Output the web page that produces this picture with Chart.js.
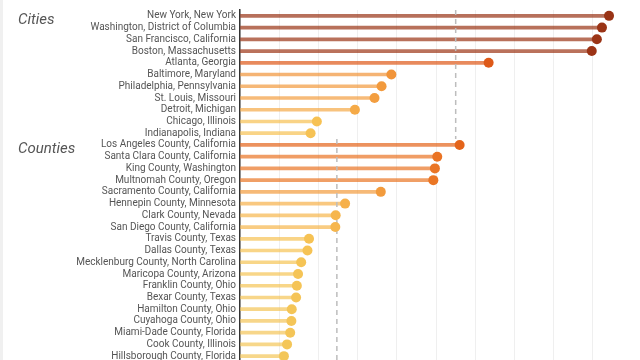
<!DOCTYPE html>
<html>
<head>
<meta charset="utf-8">
<script src="https://cdn.jsdelivr.net/npm/chart.js@4.4.1/dist/chart.umd.min.js"></script>
<style>
  html, body { margin: 0; padding: 0; background: #fff; overflow: hidden; }
  #wrap { position: relative; width: 640px; height: 360px; overflow: hidden; }
  #c { position: absolute; left: 0; top: 0; }
  #strip { position: absolute; left: 0; top: 0; width: 3px; height: 360px; background: #f0f0f0; z-index: 2; }
</style>
</head>
<body>
<div id="wrap"><canvas id="c" width="640" height="372"></canvas><div id="strip"></div></div>
<script>
const categories = [
  "New York, New York",
  "Washington, District of Columbia",
  "San Francisco, California",
  "Boston, Massachusetts",
  "Atlanta, Georgia",
  "Baltimore, Maryland",
  "Philadelphia, Pennsylvania",
  "St. Louis, Missouri",
  "Detroit, Michigan",
  "Chicago, Illinois",
  "Indianapolis, Indiana",
  "Los Angeles County, California",
  "Santa Clara County, California",
  "King County, Washington",
  "Multnomah County, Oregon",
  "Sacramento County, California",
  "Hennepin County, Minnesota",
  "Clark County, Nevada",
  "San Diego County, California",
  "Travis County, Texas",
  "Dallas County, Texas",
  "Mecklenburg County, North Carolina",
  "Maricopa County, Arizona",
  "Franklin County, Ohio",
  "Bexar County, Texas",
  "Hamilton County, Ohio",
  "Cuyahoga County, Ohio",
  "Miami-Dade County, Florida",
  "Cook County, Illinois",
  "Hillsborough County, Florida"
];
const values = [
  9.41, 9.23, 9.10, 8.97, 6.34, 3.86, 3.61, 3.43, 2.93, 1.96, 1.80,
  5.60, 5.03, 4.97, 4.93, 3.59, 2.68, 2.44, 2.43, 1.76, 1.72, 1.56,
  1.48, 1.45, 1.43, 1.32, 1.31, 1.28, 1.20, 1.12
];
const groupTitles = ["Cities", "Counties"];
const groupStarts = [0, 11];
const groupAverages = [5.50, 2.47];

// colour ramp (style only)
const stops = [
  [1.0, [243, 199, 90]],
  [2.0, [247, 193, 82]],
  [3.0, [245, 168, 70]],
  [3.8, [241, 150, 58]],
  [5.0, [234, 116, 36]],
  [5.6, [228, 100, 26]],
  [6.4, [222, 88, 24]],
  [9.0, [155, 52, 22]],
  [10.0, [150, 50, 20]]
];
function colorFor(v, a) {
  let c = stops[stops.length - 1][1];
  for (let i = 0; i < stops.length - 1; i++) {
    const [v0, c0] = stops[i], [v1, c1] = stops[i + 1];
    if (v <= v0) { c = c0; break; }
    if (v <= v1) {
      const t = (v - v0) / (v1 - v0);
      c = c0.map((x, k) => Math.round(x + (c1[k] - x) * t));
      break;
    }
  }
  return `rgba(${c[0]},${c[1]},${c[2]},${a})`;
}

const overlay = {
  id: 'overlay',
  afterDatasetDraw(chart, args) {
    if (args.index !== 0) return;
    const ctx = chart.ctx, x = chart.scales.x, y = chart.scales.y, area = chart.chartArea;
    const split = (y.getPixelForValue(groupStarts[1] - 1) + y.getPixelForValue(groupStarts[1])) / 2;
    const spans = [[area.top, split], [split, area.bottom]];
    ctx.save();
    ctx.strokeStyle = '#bdbdbd';
    ctx.lineWidth = 1.5;
    ctx.setLineDash([5, 4]);
    groupAverages.forEach((avg, i) => {
      const px = x.getPixelForValue(avg);
      ctx.beginPath();
      ctx.moveTo(px, spans[i][0]);
      ctx.lineTo(px, spans[i][1]);
      ctx.stroke();
    });
    ctx.restore();
  },
  afterDraw(chart) {
    const ctx = chart.ctx, y = chart.scales.y;
    ctx.save();
    ctx.fillStyle = '#555';
    ctx.font = 'italic 15px Roboto';
    ctx.textBaseline = 'middle';
    ctx.textAlign = 'left';
    groupTitles.forEach((t, i) => {
      ctx.fillText(t, 18, y.getPixelForValue(groupStarts[i]) + 4);
    });
    ctx.restore();
  }
};

new Chart(document.getElementById('c'), {
  data: {
    labels: categories,
    datasets: [
      {
        type: 'bar',
        data: values,
        order: 2,
        barThickness: 3,
        backgroundColor: values.map(v => colorFor(v, 0.7)),
        borderWidth: 0
      },
      {
        type: 'line',
        data: values,
        order: 1,
        showLine: false,
        clip: false,
        pointRadius: 5,
        pointHoverRadius: 5,
        pointBorderWidth: 0,
        pointBackgroundColor: values.map(v => colorFor(v, 1))
      }
    ]
  },
  options: {
    indexAxis: 'y',
    responsive: false,
    animation: false,
    events: [],
    layout: { autoPadding: false, padding: { top: 10, right: 0, bottom: 2, left: 0 } },
    plugins: { legend: { display: false }, tooltip: { enabled: false } },
    scales: {
      x: {
        type: 'linear',
        min: 0,
        max: 10.2,
        position: 'bottom',
        afterFit(scale) { scale.height = 0; },
        ticks: { display: false, stepSize: 1 },
        grid: {
          color: (c) => (c.tick && Number.isInteger(c.tick.value)) ? '#efefef' : 'rgba(0,0,0,0)',
          lineWidth: 1,
          drawTicks: false
        },
        border: { display: false }
      },
      y: {
        type: 'category',
        afterFit(scale) { scale.width = 240; },
        ticks: {
          color: '#555',
          font: { family: 'Roboto', size: 10 },
          padding: 4,
          autoSkip: false
        },
        grid: { display: false, drawTicks: false },
        border: { display: true, color: '#333', width: 1.5 }
      }
    }
  },
  plugins: [overlay]
});
</script>
</body>
</html>
